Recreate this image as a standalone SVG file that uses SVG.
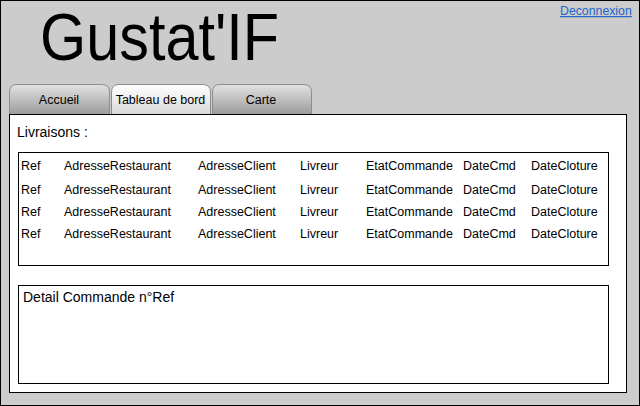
<svg xmlns="http://www.w3.org/2000/svg" width="640" height="406" viewBox="0 0 640 406">
<defs>
<linearGradient id="gTab" x1="0" y1="0" x2="0" y2="1">
<stop offset="0" stop-color="#e2e2e2"/>
<stop offset="1" stop-color="#9a9a9a"/>
</linearGradient>
<linearGradient id="gActive" x1="0" y1="0" x2="0" y2="1">
<stop offset="0" stop-color="#ffffff"/>
<stop offset="1" stop-color="#d8d8d8"/>
</linearGradient>
</defs>
<style>
text{font-family:"Liberation Sans",Arial,sans-serif;fill:#000}
.tab{stroke:#8c8c8c;stroke-width:1}
.tabt{font-size:12.5px;text-anchor:middle}
.cell{font-size:12.5px}
.box{fill:#fff;stroke:#000;stroke-width:1}
</style>
<rect x="0.5" y="0.5" width="639" height="405" fill="#cccccc" stroke="#000"/>
<g id="title"><text x="40" y="60" font-size="66" textLength="239" lengthAdjust="spacingAndGlyphs">Gustat'IF</text></g>
<g id="logout"><text x="560" y="15" font-size="12.3" style="fill:#2266cc" text-decoration="underline">Deconnexion</text></g>
<g id="tab-accueil">
<path class="tab" d="M9.5,115 V92 Q9.5,84.5 17,84.5 H101.5 Q109.5,84.5 109.5,92 V115 Z" fill="url(#gTab)"/>
<text class="tabt" x="59" y="104">Accueil</text>
</g>
<g id="tab-tableau">
<path class="tab" d="M111.5,115 V92 Q111.5,84.5 119,84.5 H202.5 Q210.5,84.5 210.5,92 V115 Z" fill="url(#gActive)"/>
<text class="tabt" x="160.5" y="104">Tableau de bord</text>
</g>
<g id="tab-carte">
<path class="tab" d="M212.5,115 V92 Q212.5,84.5 220,84.5 H303.5 Q311.5,84.5 311.5,92 V115 Z" fill="url(#gTab)"/>
<text class="tabt" x="261" y="104">Carte</text>
</g>
<g id="panel">
<rect class="box" x="9.5" y="114.5" width="617" height="278"/>
<text x="17" y="137" font-size="14">Livraisons :</text>
</g>
<g id="livraisons">
<rect class="box" x="18.5" y="152.5" width="590" height="113"/>
<g class="cell">
<text x="21" y="170">Ref</text><text x="64" y="170">AdresseRestaurant</text><text x="198" y="170">AdresseClient</text><text x="300" y="170">Livreur</text><text x="366" y="170">EtatCommande</text><text x="463" y="170">DateCmd</text><text x="531" y="170">DateCloture</text>
<text x="21" y="194">Ref</text><text x="64" y="194">AdresseRestaurant</text><text x="198" y="194">AdresseClient</text><text x="300" y="194">Livreur</text><text x="366" y="194">EtatCommande</text><text x="463" y="194">DateCmd</text><text x="531" y="194">DateCloture</text>
<text x="21" y="216">Ref</text><text x="64" y="216">AdresseRestaurant</text><text x="198" y="216">AdresseClient</text><text x="300" y="216">Livreur</text><text x="366" y="216">EtatCommande</text><text x="463" y="216">DateCmd</text><text x="531" y="216">DateCloture</text>
<text x="21" y="238">Ref</text><text x="64" y="238">AdresseRestaurant</text><text x="198" y="238">AdresseClient</text><text x="300" y="238">Livreur</text><text x="366" y="238">EtatCommande</text><text x="463" y="238">DateCmd</text><text x="531" y="238">DateCloture</text>
</g>
</g>
<g id="detail">
<rect class="box" x="18.5" y="285.5" width="590" height="98"/>
<text x="23" y="302" font-size="14">Detail Commande n°Ref</text>
</g>
<g id="connectors"/>
</svg>
